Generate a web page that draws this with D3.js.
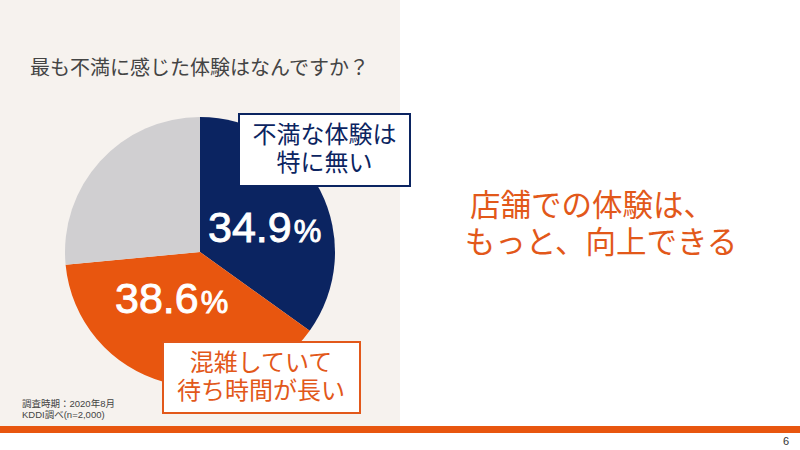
<!DOCTYPE html>
<html><head><meta charset="utf-8">
<script src="https://cdn.jsdelivr.net/npm/d3@7"></script>
<style>
body{margin:0;background:#fff;}
svg{display:block;}
</style></head>
<body>
<script>
const title = "最も不満に感じた体験はなんですか？";
const categories = ["不満な体験は特に無い", "混雑していて待ち時間が長い", "その他"];
const values = [34.9, 38.6, 26.5];
const colors = ["#0B2461", "#E8560F", "#D0CFD1"];
const valueLabels = ["34.9", "38.6", null];
const boxLines = [["不満な体験は", "特に無い"], ["混雑していて", "待ち時間が長い"]];
const message = ["店舗での体験は、", "もっと、向上できる"];
const notes = ["調査時期：2020年8月", "KDDI調べ(n=2,000)"];
const pageNo = "6";

const W = 800, H = 450;
const jp = "'Noto Sans CJK JP','Noto Sans',sans-serif";
const jpTight = "'Liberation Sans','Noto Sans CJK JP',sans-serif";
const svg = d3.select("body").append("svg").attr("width", W).attr("height", H);

// backgrounds
svg.append("rect").attr("x",0).attr("y",0).attr("width",W).attr("height",H).attr("fill","#fff");
svg.append("rect").attr("x",0).attr("y",0).attr("width",400).attr("height",427).attr("fill","#F6F2EE");
svg.append("rect").attr("x",0).attr("y",426).attr("width",W).attr("height",7).attr("fill","#E8560F");

// title
svg.append("text").attr("x",30).attr("y",75).text(title)
  .attr("font-family",jp).attr("font-size",20).attr("fill","#444");

// pie
const cx = 200, cy = 252, r = 135;
const pie = d3.pie().sort(null).value(d => d)(values);
const arc = d3.arc().innerRadius(0).outerRadius(r);
const g = svg.append("g").attr("transform",`translate(${cx},${cy})`);
g.selectAll("path").data(pie).join("path").attr("d",arc).attr("fill",(d,i)=>colors[i]);

// percentage labels
const labelPos = [[208, 242], [115, 313]];
valueLabels.forEach((v,i)=>{
  if(!v) return;
  const t = svg.append("text").attr("x",labelPos[i][0]).attr("y",labelPos[i][1])
    .attr("font-family","'Liberation Sans',Arial,sans-serif").attr("fill","#fff")
    .attr("stroke","#fff").attr("stroke-width",0.9);
  t.append("tspan").text(v).attr("font-size",43);
  t.append("tspan").text("%").attr("font-size",31).attr("dx",2);
});

// boxes
const boxes = [
  {x:239, y:114, w:171, h:72, color:colors[0], cx:324.5, y0:143},
  {x:163, y:342, w:197, h:71, color:"#E2581A", cx:261, y0:371}
];
boxes.forEach((b,i)=>{
  svg.append("rect").attr("x",b.x).attr("y",b.y).attr("width",b.w).attr("height",b.h)
    .attr("fill","#fff").attr("stroke",b.color).attr("stroke-width",2);
  boxLines[i].forEach((l,j)=>{
    svg.append("text").attr("text-anchor","middle").attr("x",b.cx).attr("y",b.y0+j*27.5)
      .attr("font-family",jpTight).attr("font-size",24).attr("fill",b.color).text(l);
  });
});

// notes
notes.forEach((n,i)=>{
  svg.append("text").attr("x",22).attr("y",407+i*11).text(n)
    .attr("font-family",jpTight).attr("font-size",9.5).attr("fill","#444");
});

// message
message.forEach((m,i)=>{
  svg.append("text").attr("text-anchor","middle").attr("x",i===0?592:601).attr("y",216+i*37)
    .attr("font-family",jpTight).attr("font-size",30.5).attr("fill","#E2581A").text(m);
});

svg.append("text").attr("x",789).attr("y",445).attr("text-anchor","end")
  .attr("font-family","'Liberation Sans',Arial,sans-serif").attr("font-size",11).attr("fill","#333").text(pageNo);
</script>
</body></html>
